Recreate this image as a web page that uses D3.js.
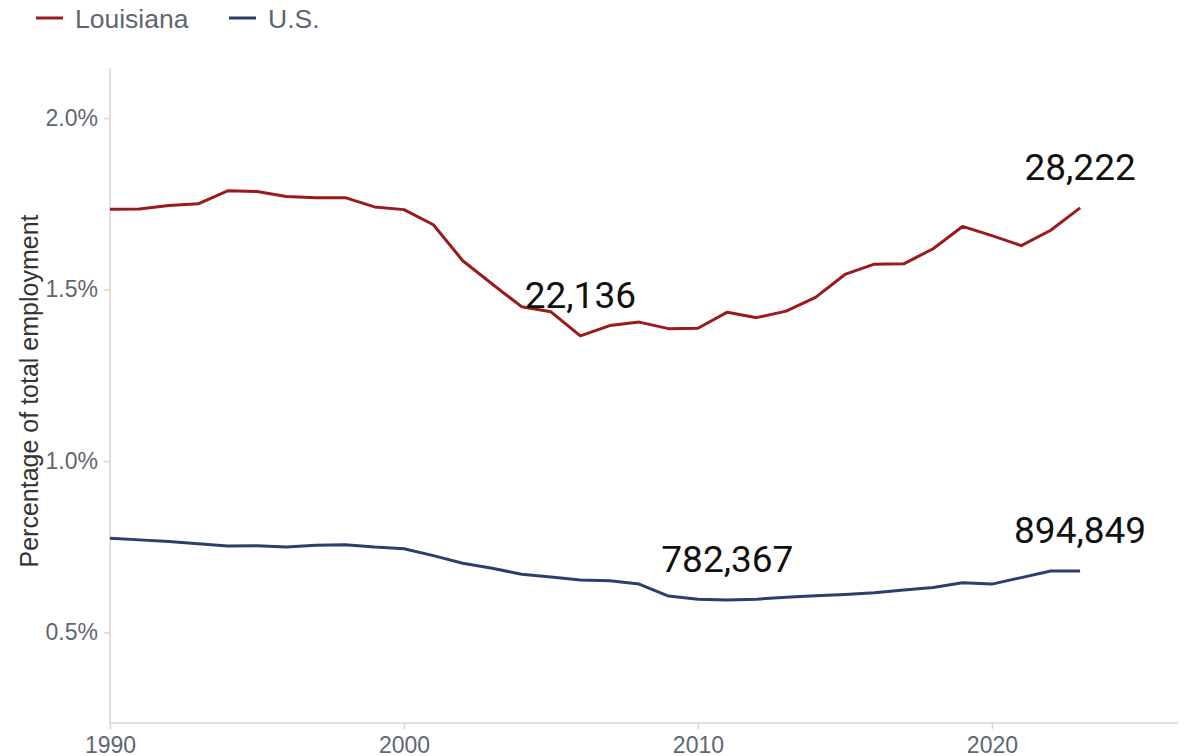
<!DOCTYPE html>
<html><head><meta charset="utf-8">
<script src="https://cdn.jsdelivr.net/npm/d3@7"></script>
<style>
html,body{margin:0;padding:0;background:#fff;}
svg{display:block;}
</style></head>
<body>
<svg id="chart" width="1184" height="756"></svg>
<script>
const years = d3.range(1990, 2024);
const louisiana = [1.734,1.735,1.745,1.750,1.788,1.786,1.771,1.768,1.768,1.741,1.733,1.689,1.584,1.516,1.450,1.435,1.365,1.395,1.405,1.386,1.387,1.434,1.418,1.437,1.477,1.544,1.574,1.575,1.619,1.684,1.657,1.628,1.673,1.738];
const us = [0.775,0.770,0.765,0.759,0.752,0.753,0.749,0.754,0.756,0.749,0.744,0.724,0.702,0.687,0.670,0.662,0.653,0.651,0.641,0.606,0.597,0.595,0.597,0.603,0.607,0.611,0.616,0.624,0.631,0.645,0.641,0.660,0.679,0.679];
const seriesNames = ["Louisiana", "U.S."];
const seriesColors = ["#9a1a1d", "#2c3e6d"];
const yTicks = [0.5, 1.0, 1.5, 2.0];
const xTicks = [1990, 2000, 2010, 2020];
const annotations = [
  {series: 0, year: 2006, label: "22,136"},
  {series: 0, year: 2023, label: "28,222"},
  {series: 1, year: 2011, label: "782,367"},
  {series: 1, year: 2023, label: "894,849"}
];
const yTitle = "Percentage of total employment";

(function () {
const svg = d3.select("#chart");
const mLeft = 110, mRight = 1178, mTop = 68, mBottom = 723;
const x = d3.scaleLinear().domain([1990, 2026.33]).range([mLeft, mRight]);
const y = d3.scaleLinear().domain([0.236, 2.146]).range([mBottom, mTop]);
const data = [louisiana, us];
const font = "'Liberation Sans', Arial, sans-serif";
const annFont = "Roboto, 'Noto Sans', sans-serif";
const grey = "#5f6671";
const axisCol = "#d6d6d6";

// y axis
const yAxis = svg.append("g").attr("transform", `translate(${mLeft},0)`)
  .call(d3.axisLeft(y).tickValues(yTicks).tickFormat(d => d3.format(".1f")(d) + "%").tickSize(6).tickPadding(6));
yAxis.select(".domain").attr("stroke", axisCol).attr("stroke-width", 1.5).attr("d", `M0,${mTop}V${mBottom}`);
yAxis.selectAll(".tick line").attr("stroke", axisCol).attr("stroke-width", 1.5);
yAxis.selectAll(".tick text").attr("fill", grey).style("font-family", font).style("font-size", "23px");

// x axis
const xAxis = svg.append("g").attr("transform", `translate(0,${mBottom})`)
  .call(d3.axisBottom(x).tickValues(xTicks).tickFormat(d3.format("d")).tickSize(6).tickPadding(8));
xAxis.select(".domain").attr("stroke", axisCol).attr("stroke-width", 1.5).attr("d", `M${mLeft},0H${mRight}`);
xAxis.selectAll(".tick line").attr("stroke", axisCol).attr("stroke-width", 1.5);
xAxis.selectAll(".tick text").attr("fill", grey).style("font-family", font).style("font-size", "23px");

// y title
svg.append("text")
  .attr("transform", `translate(38,391) rotate(-90)`)
  .attr("text-anchor", "middle")
  .attr("fill", "#333")
  .style("font-family", font).style("font-size", "25px")
  .text(yTitle);

// lines
const line = d3.line().x((d, i) => x(years[i])).y(d => y(d));
data.forEach((s, k) => {
  svg.append("path").datum(s)
    .attr("fill", "none").attr("stroke", seriesColors[k]).attr("stroke-width", 3)
    .attr("stroke-linejoin", "round")
    .attr("d", line);
});

// annotations
annotations.forEach(a => {
  const v = data[a.series][years.indexOf(a.year)];
  svg.append("text")
    .attr("x", x(a.year)).attr("y", y(v) - 28)
    .attr("text-anchor", "middle").attr("fill", "#111")
    .style("font-family", annFont).style("font-size", "37px")
    .text(a.label);
});

// legend
const legendX = [36, 229];
seriesNames.forEach((n, k) => {
  const g = svg.append("g").attr("transform", `translate(${legendX[k]},18)`);
  g.append("line").attr("x1", 0).attr("x2", 27).attr("y1", 0).attr("y2", 0)
    .attr("stroke", seriesColors[k]).attr("stroke-width", 3);
  g.append("text").attr("x", 39).attr("y", 9.5).attr("fill", grey)
    .style("font-family", font).style("font-size", "26.5px").text(n);
});
})();
</script>
</body></html>
